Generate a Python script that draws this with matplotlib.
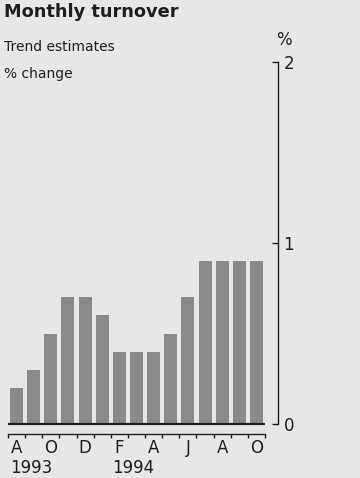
import matplotlib

matplotlib.use("Agg")

import matplotlib.pyplot as plt

# Monthly turnover, trend estimates, % change (Aug 1993 - Oct 1994)
months = ["Aug", "Sep", "Oct", "Nov", "Dec", "Jan", "Feb", "Mar",
          "Apr", "May", "Jun", "Jul", "Aug", "Sep", "Oct"]
values = [0.2, 0.3, 0.5, 0.7, 0.7, 0.6, 0.4, 0.4,
          0.4, 0.5, 0.7, 0.9, 0.9, 0.9, 0.9]
tick_labels = ["A", "", "O", "", "D", "", "F", "", "A", "", "J", "", "A", "", "O"]
year_labels = {0: "1993", 6: "1994"}
y_ticks = [0, 1, 2]

BG = "#e7e7e5"
BAR = "#8a8a8a"
INK = "#1e1e1e"

fig = plt.figure(figsize=(3.6, 4.78), dpi=100, facecolor=BG)
ax = fig.add_axes([8 / 360, 1 - 424 / 478, 270 / 360, (424 - 62) / 478])
ax.set_facecolor("none")

x = list(range(len(values)))
ax.bar(x, values, width=0.76, color=BAR, edgecolor="none", zorder=2)
ax.plot([-0.5, len(values) - 0.5], [0, 0], color=INK, linewidth=1.6,
        solid_capstyle="butt", zorder=3, clip_on=False)

ax.set_xlim(-0.5, 15.26)
ax.set_ylim(0, 2)

for side in ("top", "left"):
    ax.spines[side].set_visible(False)
ax.spines["right"].set_color(INK)
ax.spines["right"].set_linewidth(1.0)
ax.spines["bottom"].set_position(("outward", 7))
ax.spines["bottom"].set_bounds(-0.5, len(values) - 0.5)
ax.spines["bottom"].set_color(INK)
ax.spines["bottom"].set_linewidth(1.0)

ax.yaxis.tick_right()
ax.set_yticks(y_ticks)
ax.set_yticklabels([str(v) for v in y_ticks], fontsize=12, color=INK)
ax.tick_params(axis="y", direction="in", length=4, width=1.0, pad=4,
               colors=INK)

ax.set_xticks([i - 0.5 for i in range(len(values) + 1)])
ax.set_xticklabels([])
ax.set_xticks(x, minor=True)
ax.set_xticklabels(tick_labels, minor=True, fontsize=12, color=INK)
ax.tick_params(axis="x", which="major", direction="out", length=3,
               width=1.0, colors=INK)
ax.tick_params(axis="x", which="minor", length=0, pad=4, colors=INK)

for i, yr in year_labels.items():
    ax.annotate(yr, xy=(i - 0.4, 0), xycoords=("data", "axes fraction"),
                xytext=(0, -32), textcoords="offset points", ha="left",
                va="center", fontsize=12, color=INK, annotation_clip=False)

fig.text(4 / 360, 1 - 12 / 478, "Monthly turnover", fontsize=12.8,
         fontweight="heavy", color=INK, ha="left", va="center")
fig.text(4 / 360, 1 - 47 / 478, "Trend estimates", fontsize=10,
         color=INK, ha="left", va="center")
fig.text(4 / 360, 1 - 74 / 478, "% change", fontsize=10,
         color=INK, ha="left", va="center")
fig.text(284 / 360, 1 - 40 / 478, "%", fontsize=12,
         color=INK, ha="center", va="center")

fig.savefig("out.png", dpi=100, facecolor=BG)
